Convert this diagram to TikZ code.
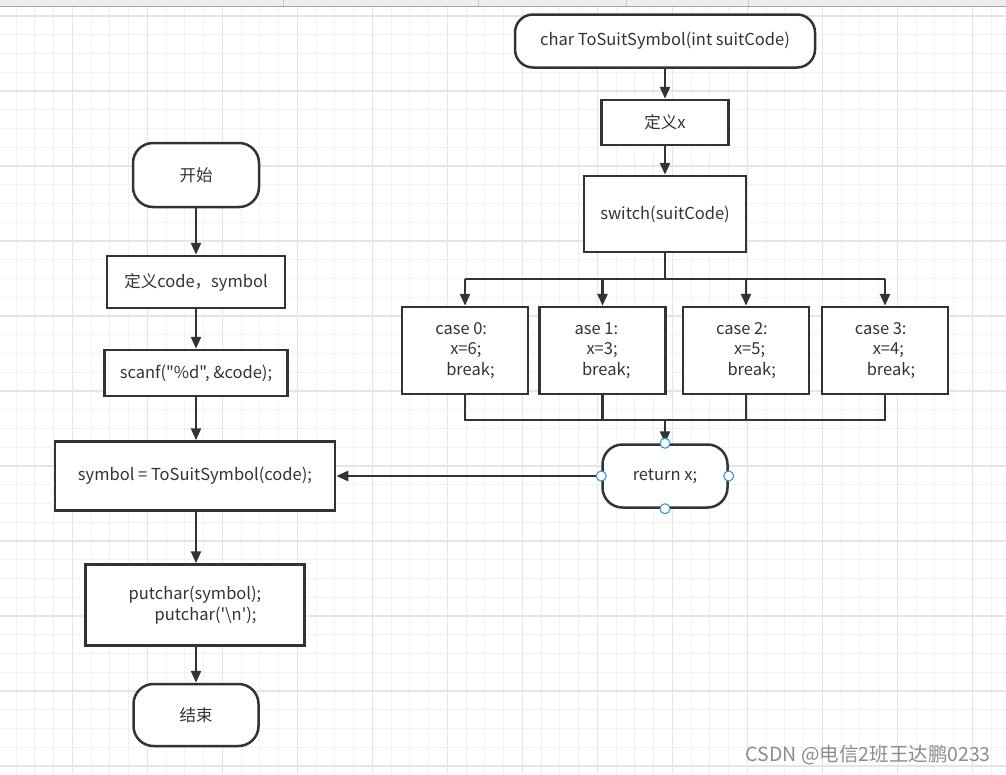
\documentclass[tikz,border=0pt]{standalone}
\usepackage{fontspec}
\newfontfamily\ff{Noto Sans CJK SC}
\usetikzlibrary{arrows.meta}
\definecolor{ln}{HTML}{333333}
\definecolor{tx}{HTML}{333333}
\definecolor{gmin}{HTML}{F2F2F2}
\definecolor{gmaj}{HTML}{E5E5E5}
\definecolor{hb}{HTML}{2D8CF0}
\definecolor{strip}{HTML}{EEEEEE}
\definecolor{wm}{HTML}{8C8C8C}
\begin{document}
\begin{tikzpicture}[x=1pt,y=-1pt,
  box/.style={draw=ln,line width=2.5pt,fill=white,text=tx,inner sep=0pt,
    font=\ff\fontsize{16.5}{20.5}\selectfont,align=left},
  term/.style={box,rounded corners=20pt},
  arr/.style={draw=ln,line width=2.5pt,-{Triangle[length=12pt,width=10pt]}},
  con/.style={draw=ln,line width=2.5pt},
  handle/.style={circle,draw=hb,fill=white,line width=1pt,minimum size=10pt,inner sep=0pt}]
\useasboundingbox (0,0) rectangle (1006,774);
\fill[white] (0,0) rectangle (1006,774);
% grid
\foreach \i in {0,...,54} {\draw[gmin,line width=1pt] ({-2.7+18.75*\i},6) -- (-2.7+18.75*\i,774);}
\foreach \i in {0,...,42} {\draw[gmin,line width=1pt] (0,{16+18.75*\i}) -- (1006,16+18.75*\i);}
\foreach \i in {0,...,13} {\draw[gmaj,line width=1.2pt] ({-2.7+75*\i},6) -- (-2.7+75*\i,774);}
\foreach \i in {0,...,10} {\draw[gmaj,line width=1.2pt] (0,{16+75*\i}) -- (1006,16+75*\i);}
% top strip
\fill[strip] (0,0) rectangle (1006,6);
\draw[gray!70,line width=1pt] (0,6) -- (1006,6);
\foreach \x in {283,478,626,748} {\draw[gray!40,line width=0.8pt] (\x,0) -- (\x,6);}

% left column
\node[term,minimum width=126,minimum height=64] (start) at (196,175) {开始};
\node[box,minimum width=178,minimum height=52] (def) at (196,282) {定义code，symbol};
\node[box,minimum width=183,minimum height=46] (scan) at (196,373) {scanf("\%d", \&code);};
\node[box,minimum width=280,minimum height=69] (sym) at (195,476) {symbol = ToSuitSymbol(code);};
\node[box,minimum width=219,minimum height=81] (put) at (195,605) {putchar(symbol);\\\hspace*{26pt}putchar('\textbackslash n');};
\node[term,minimum width=125,minimum height=62] (end) at (196,715) {结束};

\draw[arr] (start.south) -- (def.north);
\draw[arr] (def.south) -- (scan.north);
\draw[arr] (scan.south) -- (scan.south |- sym.north);
\draw[arr] (sym.south -| scan.south) -- (scan.south |- put.north);
\draw[arr] (put.south -| end.north) -- (end.north);

% right column
\node[term,minimum width=300,minimum height=53,rounded corners=18pt] (top) at (665,41) {char ToSuitSymbol(int suitCode)};
\node[box,minimum width=127,minimum height=45] (defx) at (665,122.5) {定义x};
\node[box,minimum width=162,minimum height=76] (sw) at (665,214) {switch(suitCode)};
\node[box,minimum width=126,minimum height=87] (c0) at (465,350.5) {case 0:\\\hspace*{15pt}x=6;\\\hspace*{11pt}break;};
\node[box,minimum width=126,minimum height=87] (c1) at (602.5,350.5) {ase 1:\\\hspace*{12pt}x=3;\\\hspace*{7.5pt}break;};
\node[box,minimum width=126,minimum height=87] (c2) at (746,350.5) {case 2:\\\hspace*{18pt}x=5;\\\hspace*{11.5pt}break;};
\node[box,minimum width=126,minimum height=87] (c3) at (885,350.5) {case 3:\\\hspace*{18pt}x=4;\\\hspace*{12pt}break;};
\node[term,minimum width=125,minimum height=63] (ret) at (665,476) {return x;};

\coordinate (br) at (665,279);
\coordinate (mg) at (665,420);

\draw[arr] (top.south) -- (defx.north);
\draw[arr] (defx.south) -- (sw.north);
\draw[con] (sw.south) -- (br);
\draw[con] (c0.north |- br) -- (c3.north |- br);
\draw[arr] (c0.north |- br) -- (c0.north);
\draw[arr] (c1.north |- br) -- (c1.north);
\draw[arr] (c2.north |- br) -- (c2.north);
\draw[arr] (c3.north |- br) -- (c3.north);
\draw[con] (c0.south) -- (c0.south |- mg) -- (c3.south |- mg) -- (c3.south);
\draw[con] (c1.south) -- (c1.south |- mg);
\draw[con] (c2.south) -- (c2.south |- mg);
\draw[arr] (mg) -- (ret.north);
\draw[arr] (ret.west) -- (sym.east);

\node[handle] (h1) at (ret.north) {};
\node[handle] (h2) at (ret.south) {};
\node[handle] (h3) at (ret.west) {};
\node[handle] (h4) at (ret.east) {};

\node[text=wm,font=\ff\fontsize{19.5}{22}\selectfont,anchor=east,inner sep=0pt] (wmk) at (991,755) {CSDN @电信2班王达鹏0233};
\end{tikzpicture}
\end{document}
